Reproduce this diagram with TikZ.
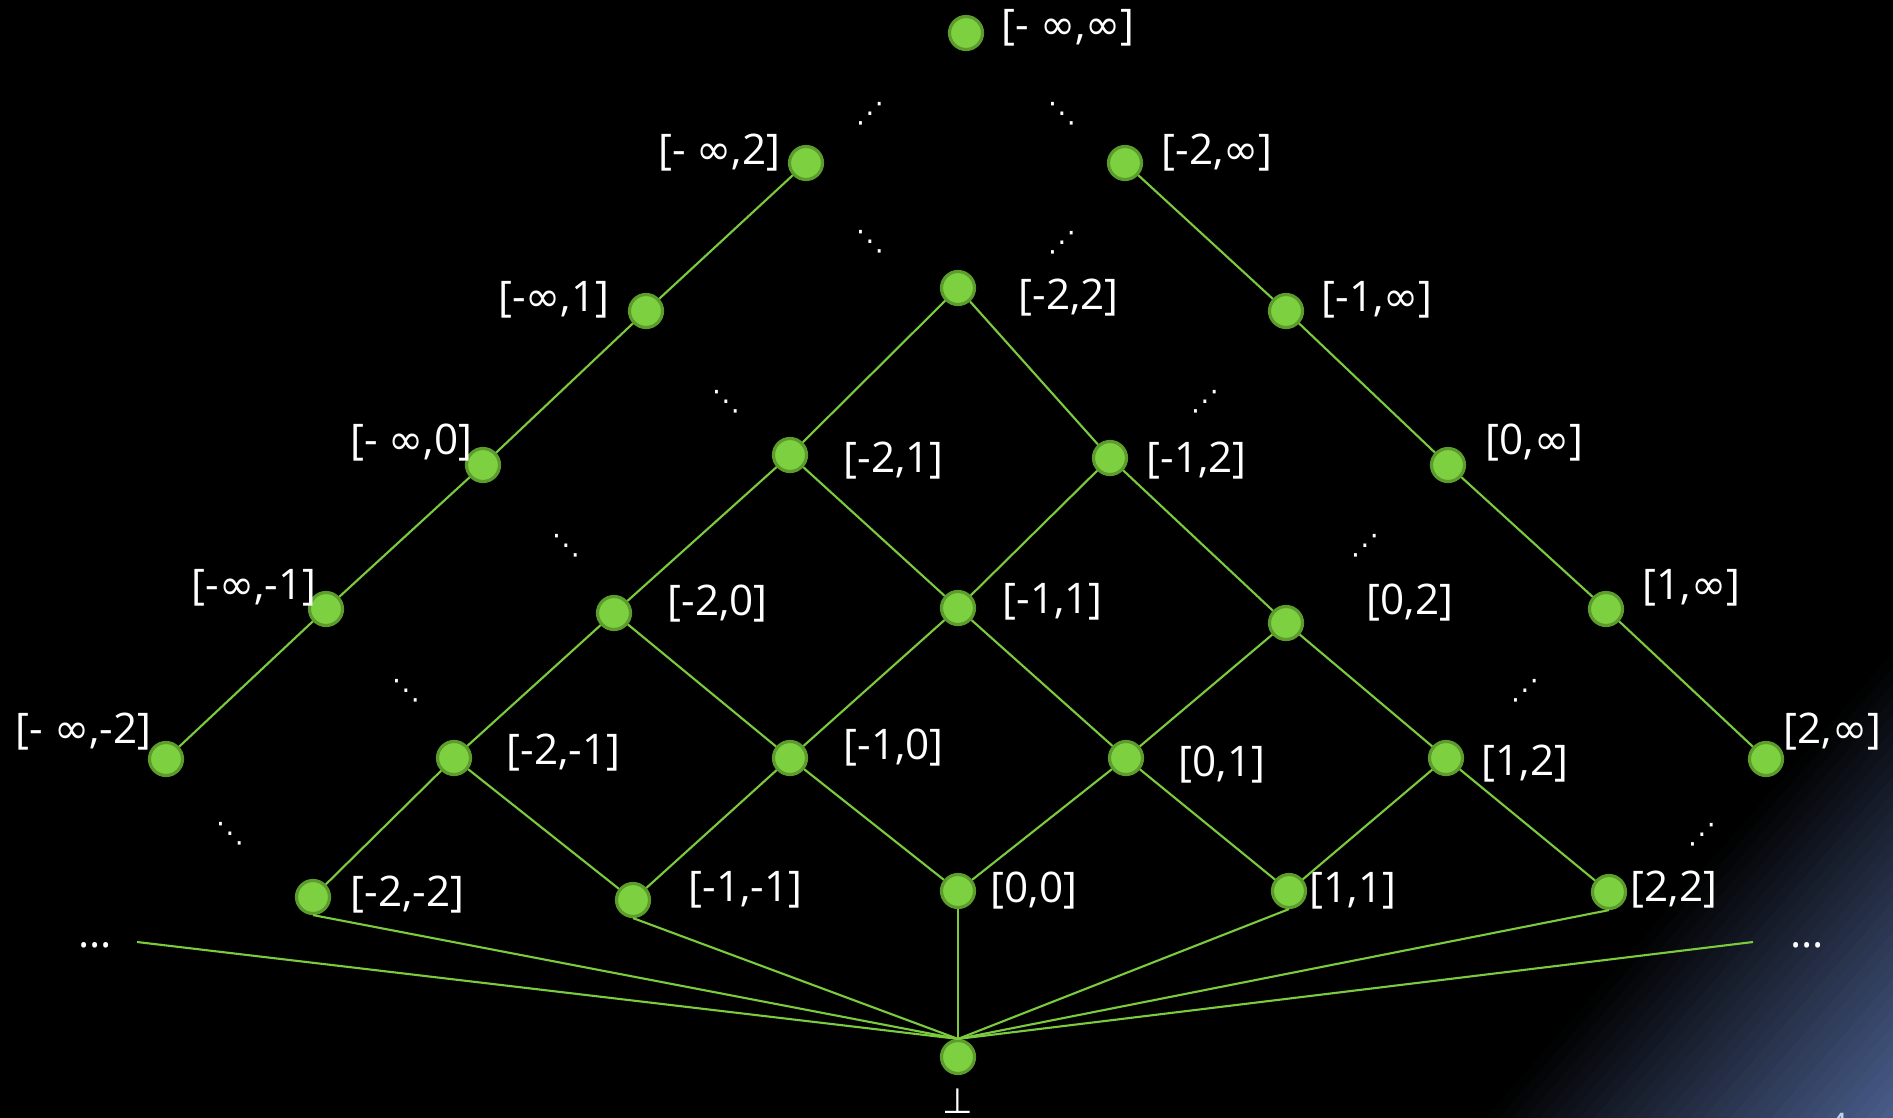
\documentclass[tikz,border=0pt]{standalone}
\usepackage{fontspec}
\setmainfont{Open Sans}
\newfontfamily\symfont{DejaVu Sans}
\usetikzlibrary{positioning}
\definecolor{cnode}{HTML}{7DD03F}
\definecolor{cring}{HTML}{5C9C2D}
\definecolor{cedge}{HTML}{7BCB3D}
\definecolor{cslate}{HTML}{4A5E8C}
\definecolor{cpage}{HTML}{BFD0EA}
\newcommand{\infy}{{\symfont ∞}}
\newcommand{\lattdn}{{\symfont ⋱}}
\newcommand{\lattup}{{\symfont ⋰}}

\begin{document}
\begin{tikzpicture}[x=0.01cm,y=-0.01cm,
    v/.style={circle,draw=cring,fill=cnode,line width=0.9pt,minimum size=0.33cm,inner sep=0pt},
    lab/.style={text=white,inner sep=0pt,font=\fontsize{12}{14}\selectfont},
    dd/.style={text=white,inner sep=0pt,font=\fontsize{8}{9}\symfont},
    ln/.style={cedge,line width=0.6pt}]
  \useasboundingbox (0,0) rectangle (1893,1118);
  % background
  \fill[black] (0,0) rectangle (1893,1118);
  \begin{scope}
    \clip (0,0) rectangle (1893,1118);
    \begin{scope}[shift={(1485,1118)},rotate=-41.2]
      \foreach \k in {0,...,29}{
        \pgfmathsetmacro\pc{100*(\k+0.5)/30}
        \fill[cslate!\pc!black] (\k*10.24,-900) rectangle (\k*10.24+11,900);
      }
    \end{scope}
    \node[text=cpage,anchor=north,font=\fontsize{10}{12}\selectfont] (pg) at (1838,1101) {4};
  \end{scope}

  % lattice points
  \node[v] (top) at (966,33) {};
  \node[v] (lp2) at (806,163) {};
  \node[v] (rm2) at (1125,163) {};
  \node[v] (lp1) at (646,311) {};
  \node[v] (m2p2) at (958,288) {};
  \node[v] (rm1) at (1286,311) {};
  \node[v] (lz0) at (483,465) {};
  \node[v] (m2p1) at (790,455) {};
  \node[v] (m1p2) at (1110,458) {};
  \node[v] (rz0) at (1448,465) {};
  \node[v] (lm1) at (326,609) {};
  \node[v] (m2z0) at (614,613) {};
  \node[v] (m1p1) at (958,608) {};
  \node[v] (z0p2) at (1286,623) {};
  \node[v] (rp1) at (1606,609) {};
  \node[v] (lm2) at (166,759) {};
  \node[v] (m2m1) at (454,758) {};
  \node[v] (m1z0) at (790,758) {};
  \node[v] (z0p1) at (1126,758) {};
  \node[v] (p1p2) at (1446,758) {};
  \node[v] (rp2) at (1766,759) {};
  \node[v] (m2m2) at (313,897) {};
  \node[v] (m1m1) at (633,900) {};
  \node[v] (z0z0) at (958,891) {};
  \node[v] (p1p1) at (1289,891) {};
  \node[v] (p2p2) at (1609,892) {};
  \node[v] (bot) at (958,1057) {};
  \coordinate (lend) at (137,942);
  \coordinate (rend) at (1753,942);

  % labels
  \node[lab,right=0.17cm of top,yshift=0.05cm] (ttop) {[- \infy,\infy]};
  \node[lab,left=0.07cm of lp2,yshift=0.10cm] (tlp2) {[- \infy,2]};
  \node[lab,right=0.18cm of rm2,yshift=0.10cm] (trm2) {[-2,\infy]};
  \node[lab,left=0.18cm of lp1,yshift=0.11cm] (tlp1) {[-\infy,1]};
  \node[lab,right=0.42cm of m2p2,yshift=-0.10cm] (tm2p2) {[-2,2]};
  \node[lab,right=0.17cm of rm1,yshift=0.11cm] (trm1) {[-1,\infy]};
  \node[lab,left=-0.08cm of lz0,yshift=0.22cm] (tlz0) {[- \infy,0]};
  \node[lab,right=0.35cm of m2p1,yshift=-0.06cm] (tm2p1) {[-2,1]};
  \node[lab,right=0.18cm of m1p2,yshift=-0.03cm] (tm1p2) {[-1,2]};
  \node[lab,right=0.19cm of rz0,yshift=0.22cm] (trz0) {[0,\infy]};
  \node[lab,left=-0.09cm of lm1,yshift=0.21cm] (tlm1) {[-\infy,-1]};
  \node[lab,right=0.35cm of m2z0,yshift=0.09cm] (tm2z0) {[-2,0]};
  \node[lab,right=0.26cm of m1p1,yshift=0.06cm] (tm1p1) {[-1,1]};
  \node[lab,right=0.62cm of z0p2,yshift=0.20cm] (tz0p2) {[0,2]};
  \node[lab,right=0.18cm of rp1,yshift=0.21cm] (trp1) {[1,\infy]};
  \node[lab,left=-0.04cm of lm2,yshift=0.27cm] (tlm2) {[- \infy,-2]};
  \node[lab,right=0.34cm of m2m1,yshift=0.05cm] (tm2m1) {[-2,-1]};
  \node[lab,right=0.35cm of m1z0,yshift=0.10cm] (tm1z0) {[-1,0]};
  \node[lab,right=0.34cm of z0p1,yshift=-0.07cm] (tz0p1) {[0,1]};
  \node[lab,right=0.17cm of p1p2,yshift=-0.06cm] (tp1p2) {[1,2]};
  \node[lab,right=-0.01cm of rp2,yshift=0.27cm] (trp2) {[2,\infy]};
  \node[lab,right=0.19cm of m2m2,yshift=0.02cm] (tm2m2) {[-2,-2]};
  \node[lab,right=0.37cm of m1m1,yshift=0.10cm] (tm1m1) {[-1,-1]};
  \node[lab,right=0.14cm of z0z0] (tz0z0) {[0,0]};
  \node[lab,right=0.02cm of p1p1] (tp1p1) {[1,1]};
  \node[lab,right=0.03cm of p2p2,yshift=0.02cm] (tp2p2) {[2,2]};
  \node[lab,below=0.13cm of bot,font=\fontsize{10}{12}\symfont] (tbot) {⊥};
  \node[lab] (ldots) at (95,945) {...};
  \node[lab] (rdots) at (1807,945) {...};

  % dots between chains
  \node[dd] (d1) at (870,114) {\lattup};
  \node[dd] (d2) at (1062,114) {\lattdn};
  \node[dd] (d3) at (870,242) {\lattdn};
  \node[dd] (d4) at (1062,243) {\lattup};
  \node[dd] (d5) at (726,402) {\lattdn};
  \node[dd] (d6) at (1205,402) {\lattup};
  \node[dd] (d7) at (566,546) {\lattdn};
  \node[dd] (d8) at (1365,546) {\lattup};
  \node[dd] (d9) at (406,691) {\lattdn};
  \node[dd] (d10) at (1525,691) {\lattup};
  \node[dd] (d11) at (230,834) {\lattdn};
  \node[dd] (d12) at (1702,835) {\lattup};

  % order
  \foreach \a/\b in {lp2/lp1,lp1/lz0,lz0/lm1,lm1/lm2,rm2/rm1,rm1/rz0,rz0/rp1,rp1/rp2,
      m2p2/m2p1,m2p2/m1p2,m2p1/m2z0,m2p1/m1p1,m1p2/m1p1,m1p2/z0p2,
      m2z0/m2m1,m2z0/m1z0,m1p1/m1z0,m1p1/z0p1,z0p2/z0p1,z0p2/p1p2,
      m2m1/m2m2,m2m1/m1m1,m1z0/m1m1,m1z0/z0z0,z0p1/z0z0,z0p1/p1p1,p1p2/p1p1,p1p2/p2p2}
    \draw[ln] (\a) -- (\b);
  \foreach \a in {m2m2,m1m1,z0z0,p1p1,p2p2}
    \draw[ln] (\a.south) -- (bot.north);
  \draw[ln] (lend) -- (bot.north);
  \draw[ln] (rend) -- (bot.north);
\end{tikzpicture}
\end{document}
